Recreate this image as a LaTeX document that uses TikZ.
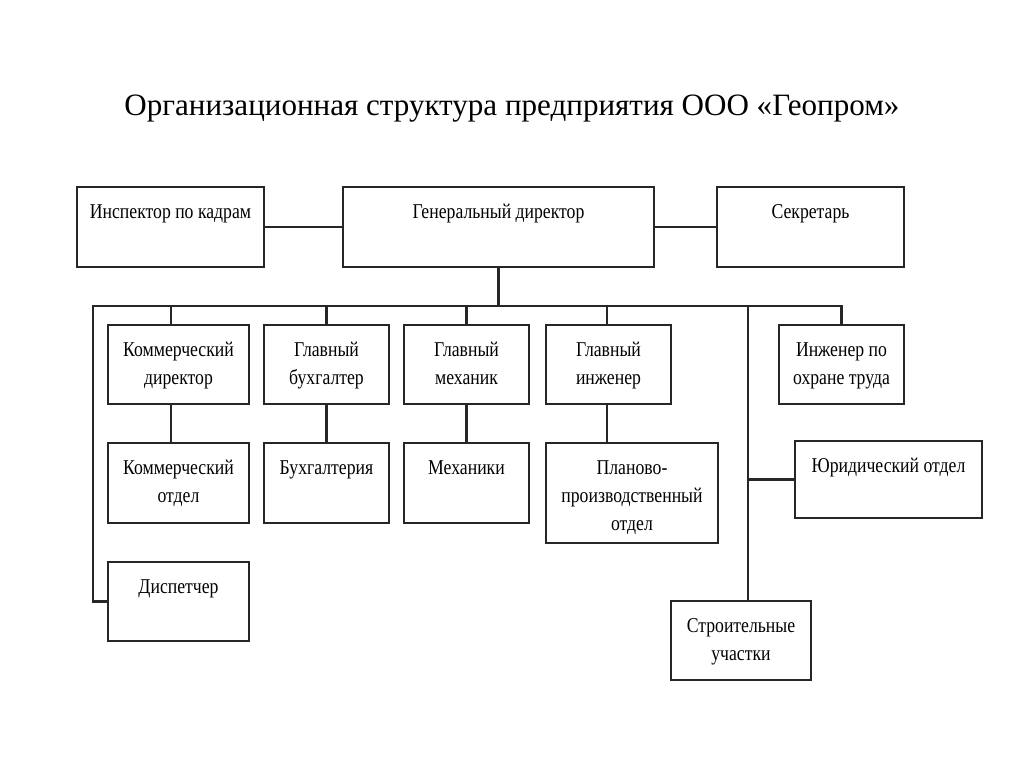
\documentclass[tikz,border=0pt]{standalone}
\usepackage{fontspec}
\setmainfont{Liberation Serif}
\newfontfamily\boxfont[FakeStretch=0.84]{Liberation Serif}
\begin{document}
\begin{tikzpicture}[x=0.75pt,y=-0.75pt,
  obox/.style={draw=black!85,line width=1.9pt,rectangle,inner sep=0pt},
  olabel/.style={anchor=north,inner sep=0pt,yshift=-9.2pt,align=center,
    font=\boxfont\fontsize{15.8}{21.3}\selectfont},
  conn/.style={draw=black!85,line width=1.7pt},
  titlest/.style={anchor=base,inner sep=0pt,font=\fontsize{23.3}{28}\selectfont}]
\useasboundingbox (0,0) rectangle (1024,768);
\newcommand\orgbox[6]{%
  \node[obox,minimum width={(#4-#2)*0.75pt},minimum height={(#5-#3)*0.75pt},
    label={[olabel]north:{\strut #6}}] (#1) at ({(#2+#4)/2},{(#3+#5)/2}) {};}
\node[titlest] (title) at (512,115) {Организационная структура предприятия ООО «Геопром»};
% top row
\orgbox{insp}{77}{187}{264}{267}{Инспектор по кадрам}
\orgbox{gen}{343}{187}{654}{267}{Генеральный директор}
\orgbox{sec}{717}{187}{904}{267}{Секретарь}
% second row
\orgbox{kd}{108}{325}{249}{404}{Коммерческий\\директор}
\orgbox{gb}{264}{325}{389}{404}{Главный\\бухгалтер}
\orgbox{gm}{404}{325}{529}{404}{Главный\\механик}
\orgbox{gi}{546}{325}{671}{404}{Главный\\инженер}
\orgbox{ohr}{779}{325}{904}{404}{Инженер по\\охране труда}
% third row
\orgbox{ko}{108}{443}{249}{523}{Коммерческий\\отдел}
\orgbox{buh}{264}{443}{389}{523}{Бухгалтерия}
\orgbox{meh}{404}{443}{529}{523}{Механики}
\orgbox{plan}{546}{443}{718}{543}{Планово-\\производственный\\отдел}
\orgbox{jur}{795}{441}{982}{518}{Юридический отдел}
% bottom
\orgbox{disp}{108}{562}{249}{641}{Диспетчер}
\orgbox{str}{671}{601}{811}{680}{Строительные\\участки}
% connectors
\coordinate (busL) at (93,306);
\coordinate (vline) at (748,306);
\draw[conn] (insp.east) -- (gen.west);
\draw[conn] (gen.east) -- (sec.west);
\draw[conn] (gen.south) -- (gen.south |- busL);
\draw[conn] (disp.west) -| (busL) -- (busL -| ohr.north) -- (ohr.north);
\draw[conn] ([xshift=-5.6pt]kd.north) -- ([xshift=-5.6pt]kd.north |- busL);
\draw[conn] (gb.north) -- (gb.north |- busL);
\draw[conn] (gm.north) -- (gm.north |- busL);
\draw[conn] ([xshift=-1.1pt]gi.north) -- ([xshift=-1.1pt]gi.north |- busL);
\draw[conn] ([xshift=-5.6pt]kd.south) -- ([xshift=-5.6pt]ko.north);
\draw[conn] (gb.south) -- (buh.north);
\draw[conn] (gm.south) -- (meh.north);
\draw[conn] ([xshift=-1.1pt]gi.south) -- ([xshift=-1.1pt]gi.south |- plan.north);
\draw[conn] (vline) -- (vline |- str.north);
\draw[conn] (jur.west) -- (jur.west -| vline);
\end{tikzpicture}
\end{document}
